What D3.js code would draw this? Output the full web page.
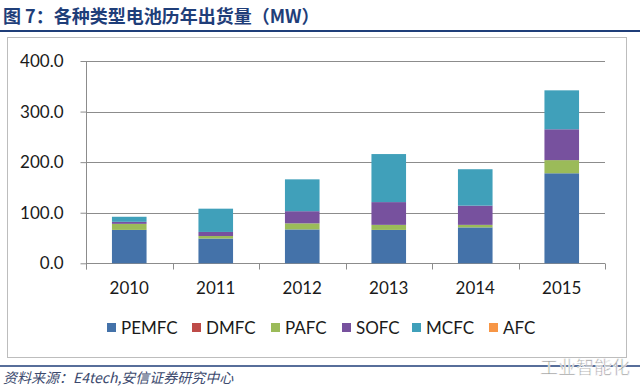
<!DOCTYPE html>
<html><head><meta charset="utf-8">
<script src="https://cdn.jsdelivr.net/npm/d3@7"></script>
<style>body{margin:0;background:#fff}svg{display:block}</style>
</head><body>
<svg id="c" width="640" height="390"></svg>
<script>
const categories = ["2010","2011","2012","2013","2014","2015"];
const seriesNames = ["PEMFC","DMFC","PAFC","SOFC","MCFC","AFC"];
const PEMFC = [66, 49, 67, 66, 71, 178];
const DMFC  = [0, 0, 0, 0, 0, 0];
const PAFC  = [12, 5, 12, 10, 5, 26];
const SOFC  = [4, 8, 24, 45, 38, 61];
const MCFC  = [10, 46, 63, 95, 72, 77];
const AFC   = [0, 0, 0, 0, 0, 0];
const yTicks = [0, 100, 200, 300, 400];
const colors = ["#4472a9","#be4b48","#9bbb59","#77519e","#40a0ba","#f79646"];

const seriesVals = {PEMFC, DMFC, PAFC, SOFC, MCFC, AFC};
const table = categories.map((c,i)=>{const o={cat:c}; seriesNames.forEach(s=>o[s]=seriesVals[s][i]); return o;});
const stack = d3.stack().keys(seriesNames)(table);

const svg = d3.select("#c");
const navy = "#1f3e79";
const font = "Lato, 'Open Sans', sans-serif";

// title
svg.append("text").attr("x",3).attr("y",23).attr("font-size",18).attr("font-weight","bold")
  .attr("fill",navy).attr("font-family","'Noto Sans CJK SC', sans-serif").text("图 7：各种类型电池历年出货量（MW）");
svg.append("line").attr("x1",0).attr("x2",640).attr("y1",31).attr("y2",31).attr("stroke",navy).attr("stroke-width",2);
svg.append("rect").attr("x",7.5).attr("y",37.5).attr("width",619).attr("height",320)
  .attr("fill","none").attr("stroke","#bdbdbd");

const x = d3.scaleBand().domain(categories).range([86,605]).paddingInner(0.6).paddingOuter(0.3);
const y = d3.scaleLinear().domain([0,400]).range([263.3,61]);

// gridlines
svg.append("g").selectAll("line").data(yTicks.slice(1)).join("line")
  .attr("x1",86).attr("x2",605).attr("y1",d=>Math.round(y(d))+0.5).attr("y2",d=>Math.round(y(d))+0.5)
  .attr("stroke","#8c8c8c");

// y axis
const ya = svg.append("g").attr("transform","translate(86.5,0)")
  .call(d3.axisLeft(y).tickValues(yTicks).tickFormat(d3.format(".1f")).tickSize(6).tickPadding(17));
ya.select(".domain").attr("stroke","#8c8c8c").attr("d","M0,61V269.3");
ya.selectAll(".tick line").attr("stroke","#8c8c8c");
ya.selectAll("text").attr("font-size",17).attr("font-family",font).attr("fill","#1a1a1a");

// x axis
const xa = svg.append("g").attr("transform","translate(0,"+(Math.round(y(0))+0.5)+")")
  .call(d3.axisBottom(x).tickSize(0).tickPadding(18));
xa.select(".domain").attr("stroke","#8c8c8c").attr("d","M86,0H605");
xa.selectAll("text").attr("font-size",17).attr("font-family",font).attr("fill","#1a1a1a");
const step = x.step();
xa.append("g").selectAll("line").data(d3.range(categories.length+1)).join("line")
  .attr("x1",i=>Math.round(86+i*step)+0.5).attr("x2",i=>Math.round(86+i*step)+0.5)
  .attr("y1",0).attr("y2",6).attr("stroke","#8c8c8c");

// bars
svg.append("g").selectAll("g").data(stack).join("g").attr("fill",(d,i)=>colors[i])
  .selectAll("rect").data(d=>d).join("rect")
  .attr("x",d=>x(d.data.cat)).attr("width",x.bandwidth())
  .attr("y",d=>y(d[1])).attr("height",d=>y(d[0])-y(d[1]));

// legend
const legX = [107,192,271,342,412,489];
const lg = svg.append("g").selectAll("g").data(seriesNames).join("g")
  .attr("transform",(d,i)=>"translate("+legX[i]+",328)");
lg.append("rect").attr("x",0).attr("y",-5).attr("width",9).attr("height",9).attr("fill",(d,i)=>colors[i]);
lg.append("text").attr("x",14).attr("y",6).attr("font-size",17).attr("font-family",font).attr("fill","#1a1a1a").text(d=>d);

// footer
svg.append("line").attr("x1",0).attr("x2",640).attr("y1",366).attr("y2",366).attr("stroke",navy).attr("stroke-width",1.5);
svg.append("text").attr("x",3).attr("y",383).attr("font-size",14).attr("font-style","italic")
  .attr("fill","#3c4a6e").attr("font-family","'Noto Sans CJK SC', sans-serif").text("资料来源：E4tech,安信证券研究中心");
// watermark
svg.append("text").attr("x",540).attr("y",374).attr("font-size",18).attr("fill","#9a9a9a")
  .attr("stroke","#ffffff").attr("stroke-width",0.6).attr("font-family","'Noto Sans CJK SC', sans-serif").text("工业智能化");
</script>
</body></html>
